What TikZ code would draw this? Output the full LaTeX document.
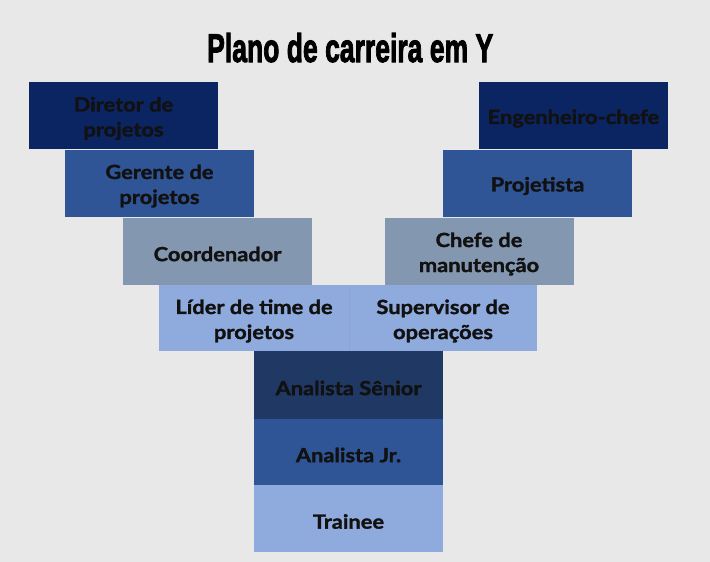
\documentclass[tikz,border=0pt]{standalone}
\usepackage{fontspec}
\setmainfont{Lato}
\newfontfamily\boxfont[FakeBold=1.6,FakeStretch=1.12]{Lato Bold}
\newfontfamily\titlefont[FakeBold=2.6]{Liberation Sans Bold}
\definecolor{bg}{HTML}{E8E8E8}
\definecolor{navy}{HTML}{0B2462}
\definecolor{midblue}{HTML}{2F5597}
\definecolor{greyblue}{HTML}{8497B0}
\definecolor{lightblue}{HTML}{8FAADC}
\definecolor{darkblue}{HTML}{203864}
\definecolor{txt}{HTML}{111111}
\begin{document}
\begin{tikzpicture}[x=1pt,y=-1pt,
  box/.style={rectangle, minimum width=189pt, minimum height=67pt, inner sep=0pt},
  lbl/.style={inner sep=0pt, yshift=-3pt, align=center, text=txt,
    font=\fontsize{19.5}{25}\boxfont},
]
\fill[bg] (0,0) rectangle (710,562);
\useasboundingbox (0,0) rectangle (710,562);
\node[anchor=base west, inner sep=0pt] (title) at (207,62)
  {\resizebox{286pt}{29pt}{\titlefont Plano de carreira em Y}};
% left branch
\node[box, fill=navy, label={[lbl]center:{Diretor de\\projetos}}] (dir) at (123.5,115.5) {};
\node[box, fill=midblue, label={[lbl]center:{Gerente de\\projetos}}] (ger) at (159.5,183) {};
\node[box, fill=greyblue, label={[lbl]center:{Coordenador}}] (coo) at (217.5,251) {};
% right branch
\node[box, fill=navy, label={[lbl]center:{Engenheiro-chefe}}] (eng) at (573.5,115.5) {};
\node[box, fill=midblue, label={[lbl]center:{Projetista}}] (pro) at (537.5,183) {};
\node[box, fill=greyblue, label={[lbl]center:{Chefe de\\manutenção}}] (che) at (479,251) {};
% junction
\node[box, fill=lightblue, minimum width=190pt, minimum height=66pt,
  label={[lbl]center:{Líder de time de\\projetos}}] (lid) at (254,318) {};
\node[box, fill=lightblue, minimum width=188pt, minimum height=66pt,
  label={[lbl]center:{Supervisor de\\operações}}] (sup) at (443,318) {};
\draw[draw=lightblue!85!gray, line width=0.6pt] (lid.north east) -- (lid.south east);
% trunk
\node[box, fill=darkblue, minimum height=68pt, label={[lbl]center:{Analista Sênior}}] (sen) at (348.5,385) {};
\node[box, fill=midblue, minimum height=66pt, label={[lbl]center:{Analista Jr.}}] (jr) at (348.5,452) {};
\node[box, fill=lightblue, label={[lbl]center:{Trainee}}] (tra) at (348.5,518.5) {};
\end{tikzpicture}
\end{document}
